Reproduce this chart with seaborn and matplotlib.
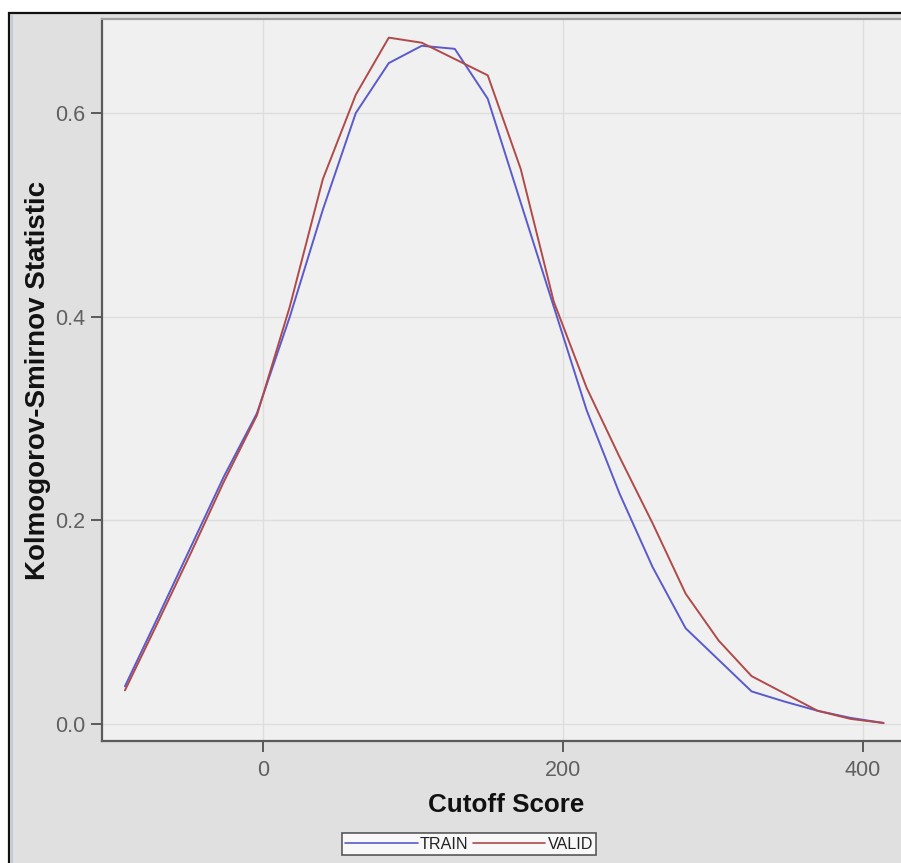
import matplotlib
matplotlib.use("Agg")
import matplotlib.pyplot as plt
import seaborn as sns
import pandas as pd
from matplotlib.patches import Rectangle

cutoff = [-92, -70, -48, -26, -4, 18, 40, 62, 84, 106, 128, 150, 172, 194,
          216, 238, 260, 282, 304, 326, 348, 370, 392, 414]
ks_train = [0.037, 0.105, 0.174, 0.243, 0.305, 0.400, 0.505, 0.600, 0.649, 0.666,
            0.663, 0.614, 0.512, 0.410, 0.308, 0.226, 0.154, 0.094, 0.063, 0.032,
            0.022, 0.013, 0.006, 0.001]
ks_valid = [0.033, 0.100, 0.168, 0.238, 0.303, 0.410, 0.535, 0.618, 0.674, 0.669,
            0.653, 0.637, 0.545, 0.415, 0.330, 0.262, 0.197, 0.128, 0.082, 0.047,
            0.030, 0.013, 0.005, 0.001]
series_names = ["TRAIN", "VALID"]
x_ticks = [0, 200, 400]
y_ticks = [0.0, 0.2, 0.4, 0.6]

df = pd.DataFrame({
    "Cutoff Score": cutoff * 2,
    "KS": ks_train + ks_valid,
    "Set": [series_names[0]] * len(cutoff) + [series_names[1]] * len(cutoff),
})

sns.set_theme(style="white")
plt.rcParams["font.family"] = ["Liberation Sans", "DejaVu Sans"]

W, H = 901, 863
fig = plt.figure(figsize=(W / 100, H / 100), dpi=100, facecolor="white")
fig.patches.append(Rectangle((9 / W, -0.1), 1.2, 1 - 13 / H + 0.1,
                             transform=fig.transFigure, facecolor="#E0E0E0",
                             edgecolor="#111111", linewidth=1.6, zorder=-10))
fig.add_artist(plt.Line2D([11.5 / W, 11.5 / W], [0, 1 - 15 / H], transform=fig.transFigure,
                          color="#B8C8DC", linewidth=1.2, zorder=-5))

left, top, bottom = 102, 19, 741
ax = fig.add_axes([left / W, (H - bottom) / H, (906 - left) / W, (bottom - top) / H])
ax.set_zorder(5)
ax.set_facecolor("#F0F0F0")

palette = {"TRAIN": "#5A5ACD", "VALID": "#B04A4A"}
sns.lineplot(data=df, x="Cutoff Score", y="KS", hue="Set", palette=palette,
             linewidth=1.4, ax=ax, legend=False)

ax.set_xlim(-107.3, 429)
ax.set_ylim(-0.0167, 0.6923)
ax.set_xticks(x_ticks)
ax.set_yticks(y_ticks)
ax.set_xticklabels([str(v) for v in x_ticks])
ax.set_yticklabels([f"{v:.1f}" for v in y_ticks])
ax.grid(True, color="#DEDEDE", linewidth=1.0)
ax.set_axisbelow(True)
for s in ["left", "bottom"]:
    ax.spines[s].set_color("#5A5A5A")
    ax.spines[s].set_linewidth(1.6)
ax.spines["top"].set_color("#A0A0A0")
ax.spines["top"].set_linewidth(1.6)
ax.spines["right"].set_visible(False)
ax.tick_params(axis="both", direction="out", length=8, width=1.4, color="#5A5A5A",
               labelsize=15.5, labelcolor="#606060", pad=4)
ax.tick_params(axis="x", pad=6)
ax.tick_params(bottom=True, left=True)

ax.set_xlabel("Cutoff Score", fontsize=18.7, fontweight="bold", color="#111111")
ax.set_ylabel("Kolmogorov-Smirnov Statistic", fontsize=20, fontweight="bold",
              color="#111111", labelpad=3)
ax.xaxis.set_label_coords((506 - left) / (906 - left), -(793 - bottom) / (bottom - top))

handles = [plt.Line2D([], [], color=palette[n], linewidth=1.2) for n in series_names]
leg = fig.legend(handles, series_names, loc="center", ncol=2,
                 bbox_to_anchor=(469 / W, 1 - 844 / H), frameon=True, fancybox=False,
                 fontsize=11.6, handlelength=4.5, handletextpad=0.15, columnspacing=0.25,
                 borderpad=0.2, borderaxespad=0)
leg.get_frame().set_edgecolor("#333333")
leg.get_frame().set_linewidth(1.2)
leg.get_frame().set_facecolor("white")
for t in leg.get_texts():
    t.set_color("#222222")

fig.savefig("out.png", dpi=100, facecolor=fig.get_facecolor())
